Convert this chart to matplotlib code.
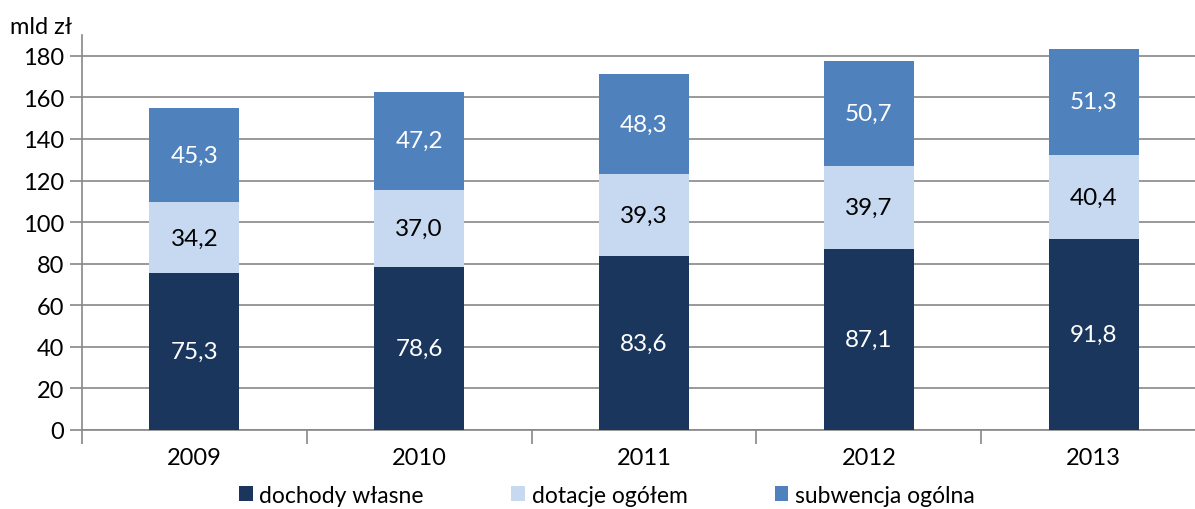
import numpy as np
import matplotlib.pyplot as plt

plt.rcParams['font.family'] = ['Lato', 'DejaVu Sans']

years = ['2009', '2010', '2011', '2012', '2013']
dochody = [75.3, 78.6, 83.6, 87.1, 91.8]
dotacje = [34.2, 37.0, 39.3, 39.7, 40.4]
subwencja = [45.3, 47.2, 48.3, 50.7, 51.3]
series_names = ['dochody własne', 'dotacje ogółem', 'subwencja ogólna']

colors = ['#1B365D', '#C6D9F1', '#4F81BD']
text_colors = ['white', 'black', 'white']

fig = plt.figure(figsize=(11.95, 5.1), dpi=100)
ax = fig.add_axes([82 / 1195, 1 - 431 / 510, 1124 / 1195, (431 - 36) / 510])

x = np.arange(len(years))
bottom = np.zeros(len(years))
for vals, col, tc, name in zip([dochody, dotacje, subwencja], colors, text_colors, series_names):
    vals = np.array(vals)
    ax.bar(x, vals, 0.4, bottom=bottom, color=col, label=name, zorder=3)
    for xi, b, v in zip(x, bottom, vals):
        ax.text(xi, b + v / 2, f'{v:.1f}'.replace('.', ','), ha='center', va='center',
                color=tc, fontsize=17.5, zorder=4)
    bottom += vals

ax.set_xlim(-0.5, 4.5)
ax.set_ylim(0, 190)
ax.set_yticks(range(0, 181, 20))
ax.tick_params(axis='y', labelsize=17, length=9, color='#888888', width=1.2, pad=4)
ax.yaxis.grid(True, color='#888888', linewidth=1.2, zorder=0)

ax.set_xticks(x)
ax.set_xticklabels(years, fontsize=17)
ax.tick_params(axis='x', length=0, pad=12)
ax.set_xticks(np.arange(-0.5, 5, 1), minor=True)
ax.tick_params(axis='x', which='minor', length=10, color='#888888', width=1.2)

for s in ['top', 'right']:
    ax.spines[s].set_visible(False)
for s in ['left', 'bottom']:
    ax.spines[s].set_color('#888888')
    ax.spines[s].set_linewidth(1.2)

fig.text(10 / 1195, 1 - 28 / 510, 'mld zł', fontsize=17, va='center', ha='left')

leg = ax.legend(loc='center', bbox_to_anchor=(0.467, -0.165), ncol=3, frameon=False,
                fontsize=16.5, handlelength=0.6, handleheight=0.6, handletextpad=0.3,
                columnspacing=3.8)

fig.savefig('out.png', dpi=100)
